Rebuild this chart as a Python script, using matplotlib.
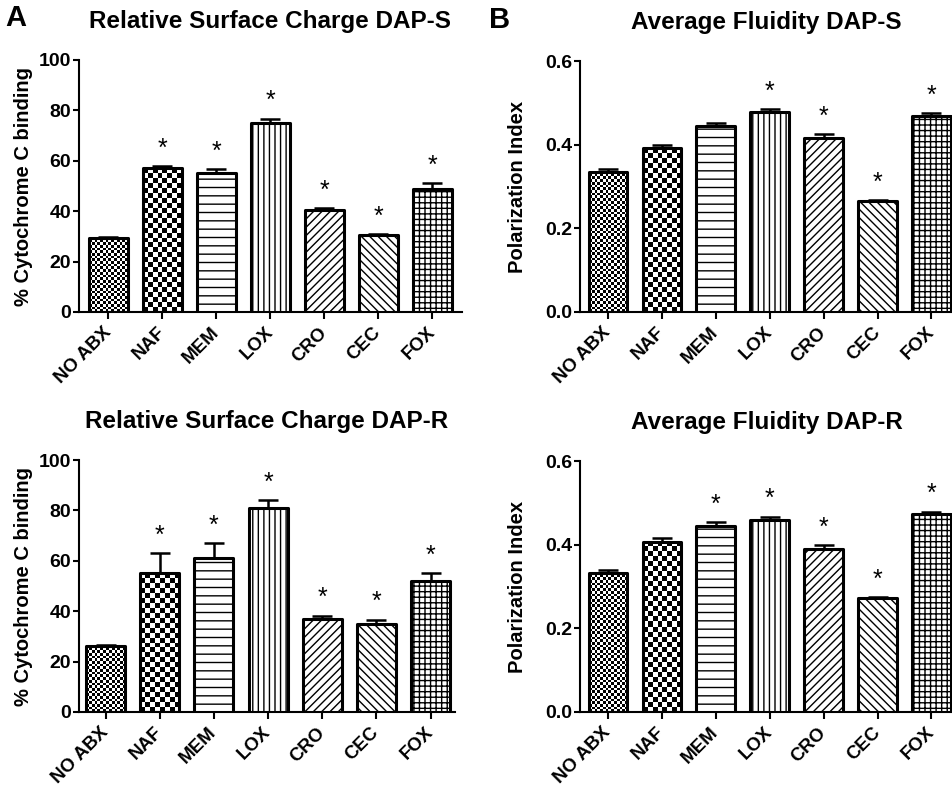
import numpy as np
import matplotlib
matplotlib.use('Agg')
import matplotlib.pyplot as plt
from matplotlib import rcParams
from matplotlib.ticker import FormatStrFormatter
from matplotlib.transforms import ScaledTranslation

categories = ['NO ABX', 'NAF', 'MEM', 'LOX', 'CRO', 'CEC', 'FOX']

# relative surface charge (% cytochrome C binding)
charge_s = [29.5, 57.0, 55.0, 75.0, 40.5, 30.5, 49.0]
charge_s_err = [0.3, 1.0, 1.6, 1.7, 0.6, 0.4, 2.2]
charge_s_sig = [False, True, True, True, True, True, True]

charge_r = [26.3, 55.0, 61.0, 81.0, 37.0, 35.0, 52.0]
charge_r_err = [0.3, 8.0, 6.0, 3.2, 1.2, 1.6, 3.0]
charge_r_sig = [False, True, True, True, True, True, True]

# average fluidity (polarization index)
fluid_s = [0.335, 0.391, 0.444, 0.477, 0.416, 0.266, 0.468]
fluid_s_err = [0.007, 0.009, 0.007, 0.008, 0.009, 0.002, 0.008]
fluid_s_sig = [False, False, False, True, True, True, True]

fluid_r = [0.333, 0.407, 0.445, 0.459, 0.390, 0.272, 0.473]
fluid_r_err = [0.006, 0.008, 0.008, 0.008, 0.009, 0.003, 0.006]
fluid_r_sig = [False, False, True, True, True, True, True]

# fill per bar: checker size in px, or a hatch string
fills = [2.7, 5.0, '--', '|||', '////', '\\\\\\\\', '+++']

rcParams['font.family'] = ['Liberation Sans', 'DejaVu Sans']
rcParams['font.weight'] = 'bold'
rcParams['hatch.linewidth'] = 1.0
rcParams['axes.linewidth'] = 1.5

W, H = 953, 790
fig = plt.figure(figsize=(W / 100, H / 100), dpi=100)


def px_axes(left, right, top, bottom):
    return fig.add_axes([left / W, 1 - bottom / H, (right - left) / W, (bottom - top) / H])


def checker(ax, bar, size_px):
    x0, w, h = bar.get_x(), bar.get_width(), bar.get_height()
    p0 = ax.transData.transform((x0, 0))
    p1 = ax.transData.transform((x0 + w, h))
    nx = max(1, int(round((p1[0] - p0[0]) / size_px)))
    ny = max(1, int(round((p1[1] - p0[1]) / size_px)))
    board = np.indices((ny, nx)).sum(axis=0) % 2
    ax.imshow(board, extent=(x0, x0 + w, 0, h), origin='lower', cmap='gray',
              interpolation='nearest', aspect='auto', zorder=2)


def draw_panel(ax, vals, err, sig, title, ylabel, ymax, ystep, fmt, xlim, ylab_x):
    x = np.arange(len(categories))
    ax.set_xlim(*xlim)
    ax.set_ylim(0, ymax)
    bars = ax.bar(x, vals, width=0.72, color='white', edgecolor='black',
                  linewidth=2.2, zorder=3, joinstyle='round')
    for bar, f in zip(bars, fills):
        if isinstance(f, str):
            bar.set_hatch(f)
        else:
            bar.set_facecolor('none')
            checker(ax, bar, f)
    ax.set_xlim(*xlim)
    ax.set_ylim(0, ymax)
    ax.errorbar(x, vals, yerr=[np.zeros(len(vals)), err], fmt='none', ecolor='black',
                elinewidth=1.8, capsize=7, capthick=1.8, zorder=4)
    for xi, v, e, s in zip(x, vals, err, sig):
        if s:
            ax.annotate('*', (xi, v + e), xytext=(0, 7.5), textcoords='offset points',
                        ha='center', va='baseline', fontsize=18, fontweight='normal')

    ax.spines['top'].set_visible(False)
    ax.spines['right'].set_visible(False)
    ax.set_yticks(np.arange(0, ymax + ystep / 2, ystep))
    ax.yaxis.set_major_formatter(FormatStrFormatter(fmt))
    ax.tick_params(axis='y', direction='out', length=4.3, width=1.5, pad=1.5, labelsize=14)
    ax.set_xticks(x)
    ax.set_xticklabels(categories, rotation=45, ha='right', fontsize=13.5)
    ax.tick_params(axis='x', direction='out', length=4.7, width=1.5, pad=4)
    shift = ScaledTranslation(0.06, 0, fig.dpi_scale_trans)
    for lab in ax.get_xticklabels():
        lab.set_transform(lab.get_transform() + shift)
    ax.set_title(title, fontsize=17.5, fontweight='bold', pad=23)
    ax.set_ylabel(ylabel, fontsize=14.5, fontweight='bold')
    ax.yaxis.set_label_coords(ylab_x, 0.5)


ax1 = px_axes(79, 462, 60, 312)
draw_panel(ax1, charge_s, charge_s_err, charge_s_sig, 'Relative Surface Charge DAP-S',
           '% Cytochrome C binding', 100, 20, '%d', (-0.546, 6.55), -0.12)

ax2 = px_axes(580, 953, 61, 312)
draw_panel(ax2, fluid_s, fluid_s_err, fluid_s_sig, 'Average Fluidity DAP-S',
           'Polarization Index', 0.6, 0.2, '%.1f', (-0.52, 6.4), -0.142)

ax3 = px_axes(79, 455, 460, 712)
draw_panel(ax3, charge_r, charge_r_err, charge_r_sig, 'Relative Surface Charge DAP-R',
           '% Cytochrome C binding', 100, 20, '%d', (-0.49, 6.45), -0.122)

ax4 = px_axes(580, 953, 461, 712)
draw_panel(ax4, fluid_r, fluid_r_err, fluid_r_sig, 'Average Fluidity DAP-R',
           'Polarization Index', 0.6, 0.2, '%.1f', (-0.52, 6.4), -0.142)

fig.text(5 / W, 1 - 4 / H, 'A', fontsize=21, fontweight='bold', ha='left', va='top')
fig.text(489 / W, 1 - 6 / H, 'B', fontsize=21, fontweight='bold', ha='left', va='top')

fig.savefig('out.png', dpi=100, facecolor='white')
